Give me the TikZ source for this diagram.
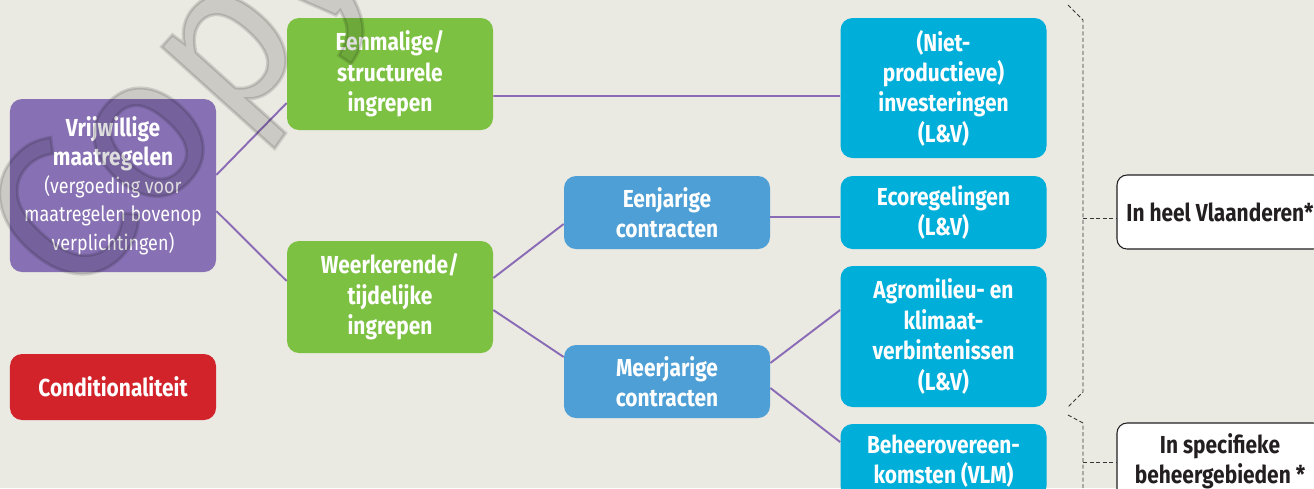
\documentclass[tikz,border=0pt]{standalone}
\usepackage{fontspec}
\setmainfont{Fira Sans}[FakeStretch=0.85]
\newfontfamily\wmfont{Fira Sans}[FakeBold=1.5]
\usetikzlibrary{positioning}

\definecolor{bgcol}{HTML}{EAE9E2}
\definecolor{paars}{HTML}{8770B3}
\definecolor{groen}{HTML}{7DC143}
\definecolor{blauw}{HTML}{4D9FD6}
\definecolor{cyaan}{HTML}{00AEDA}
\definecolor{rood}{HTML}{D2232B}
\definecolor{lijn}{HTML}{8A6CB6}
\definecolor{donker}{HTML}{231F20}

\newcommand{\boxfont}{\fontsize{14}{17.3}\selectfont\bfseries}
\newcommand{\notefont}{\fontsize{12}{14.2}\selectfont\mdseries}

\begin{document}
\begin{tikzpicture}[x=0.2mm, y=-0.2mm]
  % Settings
  \tikzset{
    box/.style={shape=rectangle, rounded corners=2.4mm, minimum width=41.2mm, align=center, text=white, font=\boxfont, inner sep=1mm},
    vrijw/.style={box, fill=paars},
    ingreep/.style={box, fill=groen},
    contract/.style={box, fill=blauw},
    regeling/.style={box, fill=cyaan},
    cond/.style={box, fill=rood},
    gebied/.style={box, fill=white, draw=donker, line width=0.6pt, rounded corners=2mm, text=donker},
    link/.style={draw=lijn, line width=1.1pt},
    brace/.style={draw=donker!90, line width=0.5pt, dash pattern=on 0.8mm off 0.5mm},
  }

  % Background
  \fill[bgcol] (0,0) rectangle (1314,488);
  \useasboundingbox (0,0) rectangle (1314,488);
  \clip (0,0) rectangle (1314,488);

  % Left column
  \node[vrijw, minimum height=34.6mm] (vrij) at (113,185.5)
    {Vrijwillige\\[-0.6pt]maatregelen\\[-1.6pt]\notefont(vergoeding voor\\[-1.1pt]\notefont maatregelen bovenop\\[-1.1pt]\notefont verplichtingen)};
  \node[cond, minimum height=13.2mm] (condi) at (113,387) {Conditionaliteit};

  % Ingrepen
  \node[ingreep, minimum height=22.4mm] (een) at (390,74) {Eenmalige/\\structurele\\ingrepen};
  \node[ingreep, minimum height=22.4mm] (weer) at (390,297) {Weerkerende/\\tijdelijke\\ingrepen};

  % Contracten
  \node[contract, minimum height=14.6mm] (eenj) at (667,212.5) {Eenjarige\\contracten};
  \node[contract, minimum height=14.6mm] (meerj) at (667,381.5) {Meerjarige\\contracten};

  % Regelingen
  \node[regeling, minimum height=28mm] (niet) at (943.5,88) {(Niet-\\productieve)\\investeringen\\(L\&V)};
  \node[regeling, minimum height=14.6mm] (eco) at (943.5,212.5) {Ecoregelingen\\(L\&V)};
  \node[regeling, minimum height=28.2mm] (agro) at (943.5,336.5) {Agromilieu- en\\klimaat-\\verbintenissen\\(L\&V)};
  \node[regeling, minimum height=14.8mm] (beh) at (943.5,461) {Beheerovereen-\\komsten (VLM)};

  % Gebieden
  \node[gebied, minimum height=14.8mm] (vla) at (1220,212) {In heel Vlaanderen*};
  \node[gebied, minimum height=15.2mm] (spec) at (1220,461) {In specifieke\\beheergebieden *};

  % Links
  \foreach \a/\sa/\b/\sb in {vrij/2.1/een/-5.8, vrij/-5.1/weer/3.2, een/-4.4/niet/-1.6,
      weer/3.8/eenj/-2.3, weer/-2.6/meerj/4.9, eenj/-0.9/eco/-0.9,
      meerj/3.7/agro/5.3, meerj/-1.3/beh/3.8}
    {\draw[link] ([yshift=\sa mm]\a.east) -- ([yshift=\sb mm]\b.west);}

  % Brace
  \draw[brace] (1068,5) -- (1083,20) -- (1083,392) -- (1068,407);
  \draw[brace] (1068,415) -- (1083,423) -- (1083,500);
  \coordinate (bv) at (1083,218);
  \coordinate (bs) at (1083,462);
  \draw[brace] (bv) -- (bv -| vla.west);
  \draw[brace] (bs) -- (bs -| spec.west);

  % Watermark
  \node[rotate=48, anchor=base west, inner sep=0pt, text=black, text opacity=0.13,
    font=\wmfont\fontsize{117}{117}\selectfont] (wm) at (74,306) {Copy};

\end{tikzpicture}
\end{document}
